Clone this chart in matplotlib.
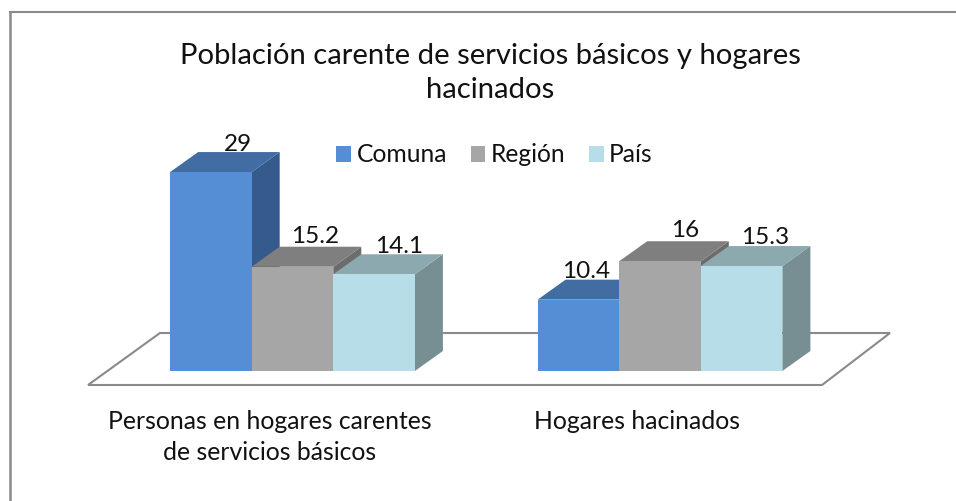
import matplotlib
matplotlib.use("Agg")
import matplotlib.pyplot as plt
from matplotlib.patches import Polygon, Patch

categories = ["Personas en hogares carentes\nde servicios básicos", "Hogares hacinados"]
series_names = ["Comuna", "Región", "País"]
comuna = [29, 10.4]
region = [15.2, 16]
pais = [14.1, 15.3]
title = "Población carente de servicios básicos y hogares\nhacinados"

plt.rcParams["font.family"] = ["Lato", "DejaVu Sans"]

W, H = 956, 501
fig = plt.figure(figsize=(W / 100, H / 100), dpi=100, facecolor="white")

# layout in pixels
X0, GROUP = 292.5, 367.5     # first group centre, group spacing
BASE, PXV = 371.0, 6.86      # y pixel of value 0, pixels per value unit
FLOOR_FRONT = 385.0
BAR_W = 81.6 / GROUP
DX, DY = 28 / GROUP, 20 / PXV

ax = fig.add_axes([0, (H - FLOOR_FRONT) / H, 1, FLOOR_FRONT / H])
ax.set_xlim(-X0 / GROUP, (W - X0) / GROUP)
ax.set_ylim(-(FLOOR_FRONT - BASE) / PXV, BASE / PXV)
for s in ax.spines.values():
    s.set_visible(False)
ax.yaxis.set_visible(False)
ax.patch.set_visible(False)


def px(x):
    return (x - X0) / GROUP


def py(y):
    return (BASE - y) / PXV


# floor
ax.add_patch(Polygon([(px(88), py(385)), (px(160), py(333)), (px(890), py(333)), (px(822), py(385))],
                     closed=True, fc="white", ec="#8a8a8a", lw=1.5, clip_on=False, zorder=1))

values = [comuna, region, pais]
faces = ["#558ED5", "#A6A6A6", "#B7DEE8"]
tops = ["#426DA3", "#7F7F7F", "#8CA9B0"]
sides = ["#355B8C", "#6C6C6C", "#778E93"]
label_dx = [[27, 8], [23, 25], [25, 24]]
label_dy = [[1, 2], [4, 4], [1, 2]]

z = 2
for g in range(len(categories)):
    for s in range(len(series_names)):
        v = values[s][g]
        left = g + (s - 1.5) * BAR_W
        right = left + BAR_W
        ax.add_patch(Polygon([(right, 0), (right + DX, DY), (right + DX, v + DY), (right, v)],
                             fc=sides[s], ec="none", zorder=z))
        ax.add_patch(Polygon([(left, v), (right, v), (right + DX, v + DY), (left + DX, v + DY)],
                             fc=tops[s], ec="none", zorder=z))
        ax.bar(left, v, width=BAR_W, align="edge", color=faces[s], zorder=z + 0.5)
        ax.text(left + BAR_W / 2 + label_dx[s][g] / GROUP, v + DY + label_dy[s][g] / PXV,
                f"{v:g}", ha="center", va="baseline", fontsize=17.5,
                color="#111111", zorder=20)
        z += 1

# category labels
ax.set_xticks([g - 23 / GROUP for g in range(len(categories))])
ax.set_xticklabels(categories, fontsize=17.8, color="#111111", linespacing=1.43)
ax.tick_params(axis="x", length=0, pad=18)

# legend
handles = [Patch(fc=c, ec="none") for c in faces]
leg = fig.legend(handles, series_names, ncol=3, frameon=False, loc="center",
                 bbox_to_anchor=(494.5 / W, 1 - 155 / H), fontsize=17.7,
                 handlelength=0.6, handleheight=0.6, handletextpad=0.22, columnspacing=0.96,
                 labelcolor="#111111")

fig.text(490 / W, 1 - 73 / H, title, ha="center", va="center", fontsize=21.1,
         color="#111111", linespacing=1.42)

# chart frame (only top and left edges fall inside the picture)
fig.add_artist(plt.Line2D([10 / W, 10 / W], [0, 1 - 12 / H], color="#8a8a8a", lw=1.8))
fig.add_artist(plt.Line2D([10 / W, 1], [1 - 12 / H, 1 - 12 / H], color="#8a8a8a", lw=1.5))

fig.savefig("out.png", dpi=100, facecolor="white")
